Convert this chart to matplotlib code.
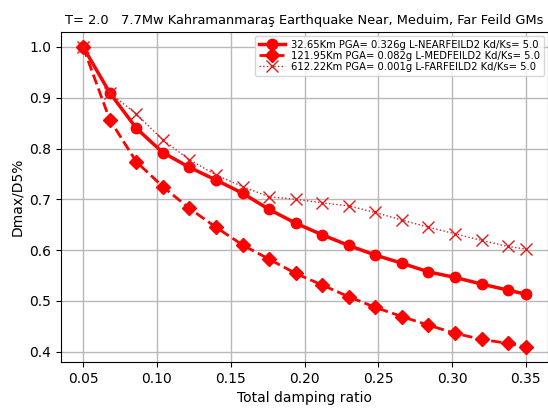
import matplotlib
matplotlib.use("Agg")
import matplotlib.pyplot as plt

damping = [0.05, 0.068, 0.086, 0.104, 0.122, 0.14, 0.158, 0.176, 0.194, 0.212,
           0.23, 0.248, 0.266, 0.284, 0.302, 0.32, 0.338, 0.35]
near = [1.0, 0.910, 0.840, 0.792, 0.763, 0.738, 0.712, 0.680, 0.653, 0.630,
        0.609, 0.590, 0.574, 0.557, 0.546, 0.533, 0.521, 0.513]
medium = [1.0, 0.857, 0.774, 0.725, 0.682, 0.645, 0.610, 0.582, 0.554, 0.531,
          0.508, 0.487, 0.469, 0.452, 0.436, 0.424, 0.416, 0.409]
far = [1.0, 0.910, 0.868, 0.817, 0.778, 0.748, 0.725, 0.705, 0.700, 0.693,
       0.687, 0.674, 0.659, 0.645, 0.632, 0.619, 0.607, 0.602]
labels = ["32.65Km PGA= 0.326g L-NEARFEILD2 Kd/Ks= 5.0",
          "121.95Km PGA= 0.082g L-MEDFEILD2 Kd/Ks= 5.0",
          "612.22Km PGA= 0.001g L-FARFEILD2 Kd/Ks= 5.0"]
title = "T= 2.0   7.7Mw Kahramanmaraş Earthquake Near, Meduim, Far Feild GMs"

fig = plt.figure(figsize=(5.48, 4.09), dpi=100)
ax = fig.add_axes([61/548, 1-362/409, (548-61)/548, (362-32)/409])

ax.plot(damping, near, '-o', color='red', lw=2.5, ms=7.5, label=labels[0])
ax.plot(damping, medium, '--D', color='red', lw=2, ms=7.5, label=labels[1])
ax.plot(damping, far, ':x', color='#e31a1c', lw=1, ms=8, mew=1, label=labels[2])

ax.set_xticks([0.05, 0.10, 0.15, 0.20, 0.25, 0.30, 0.35])
ax.set_xticklabels(["0.05", "0.10", "0.15", "0.20", "0.25", "0.30", "0.35"])
ax.grid(True, color='#b8b8b8', lw=1)
ax.set_xlabel("Total damping ratio", fontsize=10)
ax.set_ylabel("Dmax/D5%", fontsize=10)
ax.set_title(title, fontsize=9.4)
ax.legend(loc='upper right', fontsize=7.2, handlelength=2.6, borderaxespad=0.4,
          labelspacing=0.1, handletextpad=0.6)

fig.savefig("out.png", dpi=100)
